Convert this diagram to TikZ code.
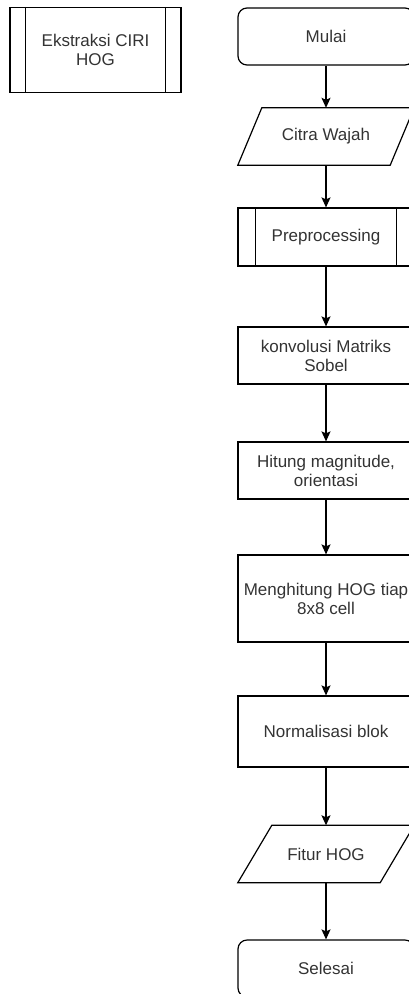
\documentclass[tikz,border=0pt]{standalone}
\usepackage{fontspec}
\setmainfont{Liberation Sans}
\usetikzlibrary{arrows.meta}

\begin{document}
\begin{tikzpicture}[x=1pt,y=-1pt,
    every node/.style={font=\fontsize{17}{19}\selectfont,text=black!80,align=center},
    garis/.style={line width=1.2pt},
    proses/.style={draw,garis,rectangle,minimum width=176pt},
    terminal/.style={proses,rounded corners=9pt},
    dataio/.style={rectangle,minimum width=176pt,minimum height=57pt},
    panah/.style={garis,-{Stealth[length=10pt,width=9pt,inset=2pt]}}]
    \useasboundingbox (0,0) rectangle (409,994);

    % judul sub proses
    \node[proses,minimum width=171pt,minimum height=85pt] (judul) at (95.5,50) {Ekstraksi CIRI\\HOG};
    \draw[garis] ([xshift=16pt]judul.north west) -- ([xshift=16pt]judul.south west);
    \draw[garis] ([xshift=-16pt]judul.north east) -- ([xshift=-16pt]judul.south east);

    % alur utama
    \node[terminal,minimum height=57pt] (mulai) at (326,36.5) {Mulai};
    \node[dataio] (citra) at (326,136.5) {Citra Wajah};
    \draw[garis] ([xshift=24pt]citra.north west) -- (citra.north east)
      -- ([xshift=-24pt]citra.south east) -- (citra.south west) -- cycle;
    \node[proses,minimum height=58pt] (pre) at (326,237) {Preprocessing};
    \draw[garis] ([xshift=18pt]pre.north west) -- ([xshift=18pt]pre.south west);
    \draw[garis] ([xshift=-18pt]pre.north east) -- ([xshift=-18pt]pre.south east);
    \node[proses,minimum height=57pt] (sobel) at (326,355.5) {konvolusi Matriks\\Sobel};
    \node[proses,minimum height=57pt] (magn) at (326,470.5) {Hitung magnitude,\\orientasi};
    \node[proses,minimum height=87pt] (hist) at (326,598.5) {Menghitung HOG tiap\\8x8 cell};
    \node[proses,minimum height=71pt] (norm) at (326,731.5) {Normalisasi blok};
    \node[dataio] (fitur) at (326,854) {Fitur HOG};
    \draw[garis] ([xshift=34pt]fitur.north west) -- (fitur.north east)
      -- ([xshift=-34pt]fitur.south east) -- (fitur.south west) -- cycle;
    \node[terminal,minimum height=57pt] (selesai) at (326,968.5) {Selesai};

    \draw[panah] (mulai) -- (citra);
    \draw[panah] (citra) -- (pre);
    \draw[panah] (pre) -- (sobel);
    \draw[panah] (sobel) -- (magn);
    \draw[panah] (magn) -- (hist);
    \draw[panah] (hist) -- (norm);
    \draw[panah] (norm) -- (fitur);
    \draw[panah] (fitur) -- (selesai);
\end{tikzpicture}
\end{document}
